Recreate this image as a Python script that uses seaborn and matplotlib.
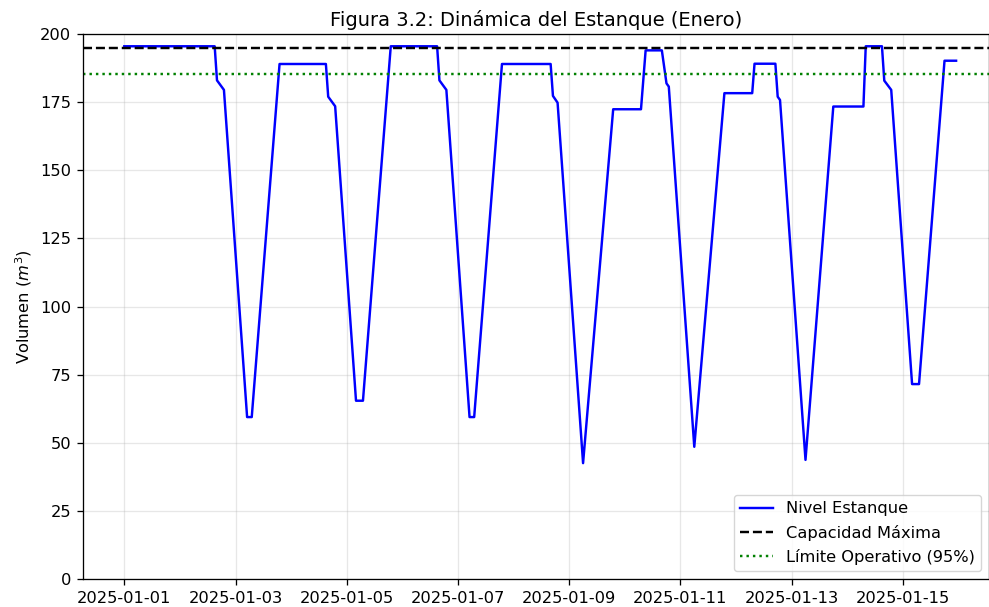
import matplotlib
matplotlib.use("Agg")
import matplotlib.pyplot as plt
import matplotlib.dates as mdates
import numpy as np
import pandas as pd
import seaborn as sns

# Breakpoints of the tank level (hours since 2025-01-01 00:00, volume m3)
hours = [0, 39, 40, 43, 53, 55, 67, 87, 88, 91, 100, 103, 115,
         135, 136, 139, 149, 151, 163, 184, 185, 187, 198, 211, 223,
         225, 232, 234, 235, 246, 259, 271, 272, 281, 282, 283, 294,
         306, 319, 320, 327, 328, 331, 340, 343, 354, 359]
volume = [195.5, 195.5, 183, 179.5, 59.5, 59.5, 189, 189, 177, 173.5, 65.5, 65.5, 195.5,
          195.5, 183, 179.5, 59.5, 59.5, 189, 189, 177.3, 174.8, 42.6, 172.4, 172.4,
          194, 194, 181.9, 180.7, 48.6, 178.3, 178.3, 189.1, 189.1, 177, 175.8, 43.8,
          173.4, 173.4, 195.5, 195.5, 182.9, 179.5, 71.6, 71.6, 190.2, 190.2]
capacidad = 195.0
limite = 0.95 * capacidad

s = 1.17
plt.rcParams.update({
    "font.size": 10 * s,
    "axes.linewidth": 0.8 * s,
    "xtick.major.size": 3.5 * s,
    "ytick.major.size": 3.5 * s,
    "xtick.major.width": 0.8 * s,
    "ytick.major.width": 0.8 * s,
    "xtick.major.pad": 3.5 * s,
    "ytick.major.pad": 3.5 * s,
    "axes.labelpad": 4 * s,
    "grid.linewidth": 0.8 * s,
})

start = pd.Timestamp("2025-01-01 00:00")
df = pd.DataFrame({"fecha": start + pd.to_timedelta(hours, unit="h"),
                   "volumen": volume})

fig = plt.figure(figsize=(9.89, 6.07), dpi=100)
ax = fig.add_axes([82.7 / 989, 27.7 / 607, (989 - 82.7) / 989, (579.3 - 34) / 607])

sns.lineplot(data=df, x="fecha", y="volumen", color="blue", linewidth=1.5 * s,
             label="Nivel Estanque", ax=ax)
ax.axhline(capacidad, color="black", linestyle="--", linewidth=1.5 * s,
           label="Capacidad Máxima")
ax.axhline(limite, color="green", linestyle=":", linewidth=1.5 * s,
           label="Límite Operativo (95%)")

ax.set_ylim(0, 200)
ax.set_xlim(start - pd.Timedelta(hours=17.96), start + pd.Timedelta(hours=373.2))
ax.xaxis.set_major_locator(mdates.DayLocator(interval=2))
ax.xaxis.set_major_formatter(mdates.DateFormatter("%Y-%m-%d"))
ax.set_xlabel("")
ax.set_ylabel("Volumen ($m^3$)")
ax.set_title("Figura 3.2: Dinámica del Estanque (Enero)", fontsize=12 * s)
ax.grid(True, alpha=0.3)
ax.legend(loc="lower right")

fig.savefig("out.png", dpi=100)
